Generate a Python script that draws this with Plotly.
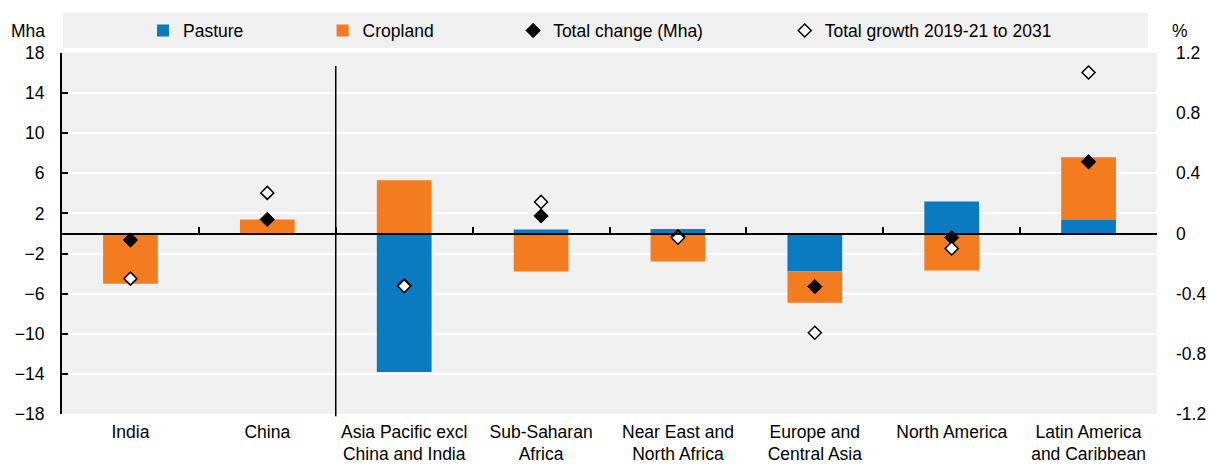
import plotly.graph_objects as go

categories = ["India", "China", "Asia Pacific excl<br>China and India", "Sub-Saharan<br>Africa",
              "Near East and<br>North Africa", "Europe and<br>Central Asia", "North America",
              "Latin America<br>and Caribbean"]
pasture = [0, 0, -13.8, 0.4, 0.45, -3.8, 3.2, 1.35]
cropland = [-5.0, 1.4, 5.3, -3.8, -2.8, -3.1, -3.7, 6.25]
total_change = [-0.65, 1.4, -5.2, 1.75, -0.3, -5.3, -0.4, 7.15]
total_growth = [-0.30, 0.27, -0.35, 0.21, -0.028, -0.66, -0.10, 1.07]

left_ticks = [-18, -14, -10, -6, -2, 2, 6, 10, 14, 18]
right_ticks = [-1.2, -0.8, -0.4, 0, 0.4, 0.8, 1.2]
right_labels = ["-1.2", "-0.8", "-0.4", "0", "0.4", "0.8", "1.2"]

FONT = "Liberation Sans, Arial, sans-serif"
FS = 17.5
BLUE = "#0A7BC1"
ORANGE = "#F47C20"
BG = "#F0F0F0"

fig = go.Figure()
fig.add_trace(go.Bar(x=categories, y=pasture, name="Pasture", marker_color=BLUE,
                     marker_line_width=0, legend="legend"))
fig.add_trace(go.Bar(x=categories, y=cropland, name="Cropland", marker_color=ORANGE,
                     marker_line_width=0, legend="legend2"))
fig.add_trace(go.Scatter(x=categories, y=total_change, name="Total change (Mha)", mode="markers",
                         marker=dict(symbol="diamond", size=11, color="black",
                                     line=dict(color="black", width=1)),
                         legend="legend3"))
fig.add_trace(go.Scatter(x=categories, y=total_growth, name="Total growth 2019-21 to 2031",
                         mode="markers", yaxis="y2",
                         marker=dict(symbol="diamond", size=10, color="white",
                                     line=dict(color="black", width=1.5)),
                         legend="legend4"))
# helper trace for the zero-line category axis (ticks at category boundaries)
fig.add_trace(go.Scatter(x=categories, y=[None] * len(categories), xaxis="x2", mode="markers",
                         showlegend=False, hoverinfo="skip"))

legend_common = dict(orientation="h", yanchor="middle", y=1.062, xanchor="left",
                     bgcolor="rgba(0,0,0,0)", font=dict(family=FONT, size=FS, color="black"),
                     itemwidth=30, borderwidth=0)
fig.update_layout(
    barmode="relative",
    bargap=0.6,
    width=1209, height=467,
    margin=dict(l=62, r=52, t=53, b=53, autoexpand=False),
    paper_bgcolor="white",
    plot_bgcolor=BG,
    font=dict(family=FONT, size=FS, color="black"),
    legend=dict(x=0.074, **legend_common),
    legend2=dict(x=0.238, **legend_common),
    legend3=dict(x=0.412, **legend_common),
    legend4=dict(x=0.660, **legend_common),
    xaxis=dict(type="category", range=[-0.5, 7.5], showline=False, ticks="", tickangle=0,
               automargin=False, showgrid=False, tickfont=dict(family=FONT, size=FS),
               ticklabelstandoff=5),
    xaxis2=dict(type="category", overlaying="x", anchor="free", position=0.5,
                range=[-0.5, 7.5], matches="x", showline=True, linecolor="black", linewidth=2,
                ticks="inside", tickson="boundaries", ticklen=6, tickwidth=2, tickcolor="black",
                showticklabels=False, showgrid=False, automargin=False),
    yaxis=dict(range=[-18, 18], tickvals=left_ticks, showgrid=True, gridcolor="white",
               gridwidth=1.5, zeroline=True, zerolinecolor="black", zerolinewidth=2,
               showline=True, linecolor="black", linewidth=2, ticks="inside", ticklen=6,
               tickwidth=2, tickcolor="black", ticklabelstandoff=12, automargin=False,
               tickfont=dict(family=FONT, size=FS)),
    yaxis2=dict(range=[-1.2, 1.2], overlaying="y", side="right", tickvals=right_ticks,
                ticktext=right_labels, showgrid=False, zeroline=False, showline=False,
                ticks="", ticklabelstandoff=18, automargin=False,
                tickfont=dict(family=FONT, size=FS)),
    shapes=[
        dict(type="rect", xref="paper", yref="paper", x0=0.001, x1=0.9918, y0=1.0139, y1=1.1108,
             fillcolor=BG, line=dict(width=0), layer="below"),
        dict(type="line", xref="x", yref="paper", x0=1.5, x1=1.5, y0=-0.006, y1=0.964,
             line=dict(color="black", width=1.5)),
    ],
    annotations=[
        dict(text="Mha", xref="paper", yref="paper", x=-0.0306, y=1.062, xanchor="center",
             yanchor="middle", showarrow=False, font=dict(family=FONT, size=FS)),
        dict(text="%", xref="paper", yref="paper", x=1.021, y=1.062, xanchor="center",
             yanchor="middle", showarrow=False, font=dict(family=FONT, size=FS)),
    ],
)

fig.write_html("out.html", config={"displayModeBar": False},
               post_script="document.body.style.margin='0';")
